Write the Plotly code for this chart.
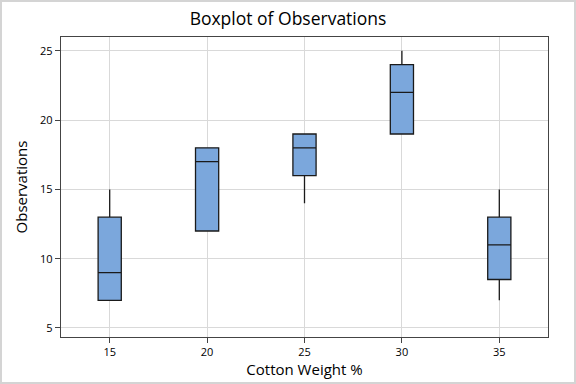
import plotly.graph_objects as go

categories = ["15", "20", "25", "30", "35"]
observations = {
    "15": [7, 7, 15, 11, 9],
    "20": [12, 17, 12, 18, 18],
    "25": [14, 18, 18, 19, 19],
    "30": [19, 25, 22, 19, 23],
    "35": [7, 10, 11, 15, 11],
}

xs, ys = [], []
for c in categories:
    for v in observations[c]:
        xs.append(c)
        ys.append(v)

fig = go.Figure()
fig.add_trace(go.Box(
    x=xs, y=ys,
    quartilemethod="exclusive",
    boxpoints=False,
    fillcolor="#7BA7DC",
    line=dict(color="#1a1a1a", width=1.3),
    whiskerwidth=0,
    showlegend=False,
    hoverinfo="skip",
))

font = "Open Sans, DejaVu Sans, sans-serif"
fig.update_layout(
    width=576, height=384,
    margin=dict(l=61, r=28, t=37, b=47, autoexpand=False),
    paper_bgcolor="white", plot_bgcolor="white",
    boxgap=0.66,
    title=dict(text="Boxplot of Observations", x=0.5, xref="container", xanchor="center",
               y=1 - 19 / 384, yref="container", yanchor="middle",
               font=dict(family=font, size=17.5, color="#000000")),
    font=dict(family=font, color="#111111"),
    shapes=[dict(type="rect", xref="paper", yref="paper",
                 x0=(1 - 61) / 487, x1=(575 - 61) / 487,
                 y0=(337 - 383) / 300, y1=(337 - 1) / 300,
                 line=dict(color="#d4d4d4", width=2), layer="below")],
)
fig.update_xaxes(
    type="category", categoryorder="array", categoryarray=categories,
    range=[-0.5, 4.5], automargin=False,
    title=dict(text="Cotton Weight %", font=dict(size=15, family=font, color="#000000"), standoff=5),
    tickfont=dict(size=11, family=font, color="#000000"),
    showgrid=True, gridcolor="#d9d9d9", gridwidth=1,
    showline=True, linecolor="#444444", linewidth=1.3, mirror=True,
    ticks="outside", ticklen=5, tickcolor="#444444",
    zeroline=False,
)
fig.update_yaxes(
    range=[4.35, 26.0], automargin=False,
    tickvals=[5, 10, 15, 20, 25],
    title=dict(text="Observations", font=dict(size=15, family=font, color="#000000"), standoff=8),
    tickfont=dict(size=11, family=font, color="#000000"),
    showgrid=True, gridcolor="#d9d9d9", gridwidth=1,
    showline=True, linecolor="#444444", linewidth=1.3, mirror=True,
    ticks="outside", ticklen=5, tickcolor="#444444",
    zeroline=False,
)

fig.write_html("out.html", config={"displayModeBar": False},
               post_script="document.body.style.margin='0';document.body.style.padding='0';")
